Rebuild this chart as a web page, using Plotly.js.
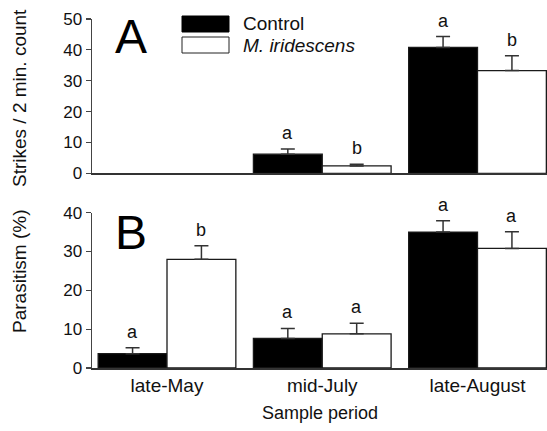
<!DOCTYPE html>
<html>
<head>
<meta charset="utf-8">
<script src="https://cdn.plot.ly/plotly-3.0.1.min.js"></script>
<style>html,body{margin:0;padding:0;background:#fff;}#chart{width:547px;height:431px;}</style>
</head>
<body>
<div id="chart"></div>
<script>
// ---- data ----
var periods = ["late-May", "mid-July", "late-August"];
var seriesNames = ["Control", "M. iridescens"];
// Panel A: strikes / 2 min. count
var strikesControl = [null, 6.2, 40.8];
var strikesControlErr = [null, 1.7, 3.5];
var strikesMir = [null, 2.4, 33.3];
var strikesMirErr = [null, 0.5, 4.8];
var strikesLettersControl = [null, "a", "a"];
var strikesLettersMir = [null, "b", "b"];
// Panel B: parasitism (%)
var parasControl = [3.7, 7.6, 35.0];
var parasControlErr = [1.5, 2.6, 2.9];
var parasMir = [28.0, 8.8, 30.8];
var parasMirErr = [3.5, 2.7, 4.3];
var parasLettersControl = ["a", "a", "a"];
var parasLettersMir = ["b", "a", "a"];

// ---- style / layout helpers ----
var FONT = "Liberation Sans, Arial, Helvetica, sans-serif";
var W = 547, H = 431;
var M = {l: 92, r: 0, t: 19, b: 63};
var plotW = W - M.l - M.r, plotH = H - M.t - M.b;
function px2x(p) { return (p - M.l) / plotW; }
function px2y(p) { return (H - M.b - p) / plotH; }
var BARGAP = 0.113;
var halfOff = (1 - BARGAP) / 4; // offset of each bar centre from category centre

function barTrace(y, err, fill, xa, ya, name) {
  return {
    type: "bar", x: periods, y: y, name: name, xaxis: xa, yaxis: ya,
    showlegend: false,
    marker: {color: fill, line: {color: "#1a1a1a", width: 1.3}},
    error_y: {type: "data", symmetric: false, array: err,
              arrayminus: err.map(function(){return 0;}),
              color: "#333", thickness: 1.5, width: 7}
  };
}

var data = [
  barTrace(strikesControl, strikesControlErr, "#000", "x", "y", seriesNames[0]),
  barTrace(strikesMir, strikesMirErr, "#fff", "x", "y", seriesNames[1]),
  barTrace(parasControl, parasControlErr, "#000", "x2", "y2", seriesNames[0]),
  barTrace(parasMir, parasMirErr, "#fff", "x2", "y2", seriesNames[1])
];

var annotations = [];
function addLetters(vals, errs, letters, side, xr, yr) {
  for (var i = 0; i < periods.length; i++) {
    if (letters[i] == null || vals[i] == null) continue;
    annotations.push({
      xref: xr, yref: yr, x: i + side * halfOff, y: vals[i] + errs[i],
      text: letters[i], showarrow: false, xanchor: "center", yanchor: "bottom",
      yshift: 4, font: {family: FONT, size: 18, color: "#111"}
    });
  }
}
addLetters(strikesControl, strikesControlErr, strikesLettersControl, -1, "x", "y");
addLetters(strikesMir, strikesMirErr, strikesLettersMir, 1, "x", "y");
addLetters(parasControl, parasControlErr, parasLettersControl, -1, "x2", "y2");
addLetters(parasMir, parasMirErr, parasLettersMir, 1, "x2", "y2");

// panel letters
annotations.push({xref: "paper", yref: "paper", x: px2x(131), y: px2y(36), text: "A",
  showarrow: false, xanchor: "center", yanchor: "middle", font: {family: FONT, size: 48, color: "#000"}});
annotations.push({xref: "paper", yref: "paper", x: px2x(131), y: px2y(232), text: "B",
  showarrow: false, xanchor: "center", yanchor: "middle", font: {family: FONT, size: 48, color: "#000"}});
// axis titles
annotations.push({xref: "paper", yref: "paper", x: px2x(19), y: px2y(98), text: "Strikes / 2 min. count",
  textangle: -90, showarrow: false, xanchor: "center", yanchor: "middle", font: {family: FONT, size: 19, color: "#111"}});
annotations.push({xref: "paper", yref: "paper", x: px2x(19), y: px2y(271), text: "Parasitism (%)",
  textangle: -90, showarrow: false, xanchor: "center", yanchor: "middle", font: {family: FONT, size: 19, color: "#111"}});
annotations.push({xref: "paper", yref: "paper", x: px2x(320), y: px2y(413), text: "Sample period",
  showarrow: false, xanchor: "center", yanchor: "middle", font: {family: FONT, size: 18, color: "#111"}});
// legend text
annotations.push({xref: "paper", yref: "paper", x: px2x(241), y: px2y(24), text: seriesNames[0],
  showarrow: false, xanchor: "left", yanchor: "middle", font: {family: FONT, size: 19, color: "#111"}});
annotations.push({xref: "paper", yref: "paper", x: px2x(241), y: px2y(46), text: "<i>" + seriesNames[1] + "</i>",
  showarrow: false, xanchor: "left", yanchor: "middle", font: {family: FONT, size: 19, color: "#111"}});

var shapes = [
  {type: "rect", xref: "paper", yref: "paper", x0: px2x(182), x1: px2x(229), y0: px2y(32), y1: px2y(16),
   fillcolor: "#000", line: {color: "#000", width: 1}},
  {type: "rect", xref: "paper", yref: "paper", x0: px2x(182), x1: px2x(229), y0: px2y(53), y1: px2y(37),
   fillcolor: "#fff", line: {color: "#222", width: 1}}
];

var xrange = [-(167 - M.l) / 155.25, (W - M.r - 167) / 155.25];
function xaxisCfg(anchor, showLabels) {
  return {anchor: anchor, type: "category", range: xrange, showline: true, linecolor: "#333",
    linewidth: 1.5, ticks: "", showgrid: false, zeroline: false, showticklabels: showLabels,
    tickfont: {family: FONT, size: 19, color: "#111"}, fixedrange: true};
}
function yaxisCfg(anchor, domain, range, dtick) {
  return {anchor: anchor, domain: domain, range: range, dtick: dtick, showline: true,
    linecolor: "#444", linewidth: 1.5, ticks: "outside", ticklen: 5, tickwidth: 1.2, tickcolor: "#444",
    showgrid: false, zeroline: false, tickfont: {family: FONT, size: 17, color: "#111"}, fixedrange: true};
}

var layout = {
  width: W, height: H, margin: M, paper_bgcolor: "#fff", plot_bgcolor: "#fff",
  barmode: "group", bargap: BARGAP, bargroupgap: 0, showlegend: false,
  xaxis: xaxisCfg("y", false),
  yaxis: yaxisCfg("x", [px2y(173.3), 1], [0, 50], 10),
  xaxis2: xaxisCfg("y2", true),
  yaxis2: yaxisCfg("x2", [0, px2y(212.7)], [0, 40], 10),
  annotations: annotations, shapes: shapes,
  font: {family: FONT, color: "#111"}
};

Plotly.newPlot("chart", data, layout, {displayModeBar: false, staticPlot: true});
</script>
</body>
</html>
